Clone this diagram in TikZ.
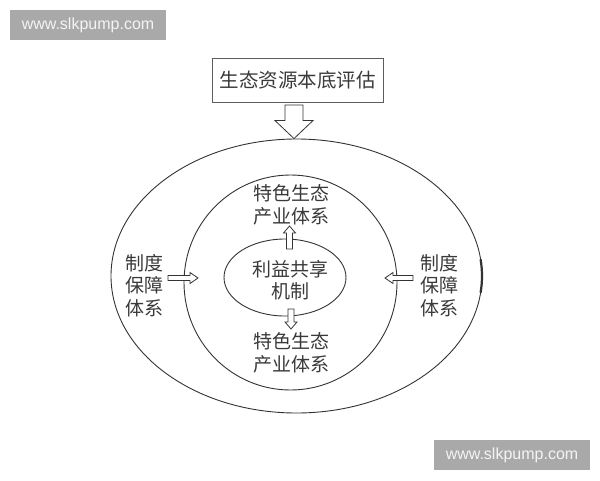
\documentclass[tikz,border=0pt]{standalone}
\usepackage{fontspec}
\setmainfont{Liberation Sans}
\newfontfamily\cjk{Noto Sans CJK SC}
\usetikzlibrary{shapes.geometric,calc}
\definecolor{ink}{HTML}{333333}
\definecolor{txt}{HTML}{3A3A3A}
\definecolor{wmbg}{HTML}{A9A9A9}
\definecolor{wmtx}{HTML}{F4F4F4}
\tikzset{
  ring/.style={ellipse, draw=ink, line width=0.9pt, inner sep=0pt},
  box/.style={draw=ink!80, line width=0.9pt, inner sep=0pt, minimum width=171pt, minimum height=44pt, text=txt, font=\cjk\fontsize{19.5}{23}\selectfont},
  lbl/.style={align=center, inner sep=0pt, text=txt, font=\cjk\fontsize{19}{22.5}\selectfont},
  hollowline/.style={draw=ink, line width=0.8pt, fill=white, line join=miter},
  wm/.style={fill=wmbg, text=wmtx, inner sep=0pt, minimum width=156pt, minimum height=30pt, font=\fontsize{16}{18}\selectfont}
}
\newcommand\hollowarrow[5]{%
  \coordinate (ha-h) at ($(#2)!#5pt!(#1)$);
  \draw[hollowline] ($(#1)!#3pt!90:(#2)$) -- ($(ha-h)!#3pt!90:(#2)$) -- ($(ha-h)!#4pt!90:(#2)$) -- (#2) -- ($(ha-h)!#4pt!-90:(#2)$) -- ($(ha-h)!#3pt!-90:(#2)$) -- ($(#1)!#3pt!-90:(#2)$) -- cycle;}
\begin{document}
\begin{tikzpicture}[x=1pt, y=-1pt]
\useasboundingbox (0,0) rectangle (600,480);
\fill[white] (0,0) rectangle (600,480);
% watermarks
\node[wm] (wm1) at (88,25) {www.slkpump.com};
\node[wm] (wm2) at (512,455) {www.slkpump.com};
% top box
\node[box] (eval) at (297.5,80) {生态资源本底评估};
% rings
\node[ring, minimum width=371pt, minimum height=274pt] (outer) at (296.5,276) {};
\node[ring, minimum width=213pt, minimum height=215pt] (inner) at (290.5,282.5) {};
\node[ring, minimum width=122pt, minimum height=77pt] (core) at (285,277.5) {};
\draw[ink, line width=2.2pt] (480.6,292.7) arc[start angle=-7, end angle=7, x radius=185.5pt, y radius=137pt];
% labels
\node[lbl] (ind1) at (291.5,205) {特色生态\\产业体系};
\node[lbl] (ind2) at (291,353) {特色生态\\产业体系};
\node[lbl] (share) at (290,280) {利益共享\\机制};
\node[lbl] (instL) at (144,285.5) {制度\\保障\\体系};
\node[lbl] (instR) at (439,285.5) {制度\\保障\\体系};
% arrow end points
\coordinate (tA) at (294,105);
\coordinate (tB) at (tA |- outer.north);
\coordinate (uA) at (289.5,249);
\coordinate (uB) at (289.5,226);
\coordinate (dA) at (291,309);
\coordinate (dB) at (291,329);
\coordinate (lA) at (168,278);
\coordinate (lB) at (198,278);
\coordinate (rA) at (413,278);
\coordinate (rB) at (385,278);
% hollow arrows
\hollowarrow{tA}{tB}{9}{19}{18}
\hollowarrow{uA}{uB}{3}{6}{7}
\hollowarrow{dA}{dB}{3}{6}{7}
\hollowarrow{lA}{lB}{2.5}{5.5}{8}
\hollowarrow{rA}{rB}{2.5}{5.5}{8}
\end{tikzpicture}
\end{document}
